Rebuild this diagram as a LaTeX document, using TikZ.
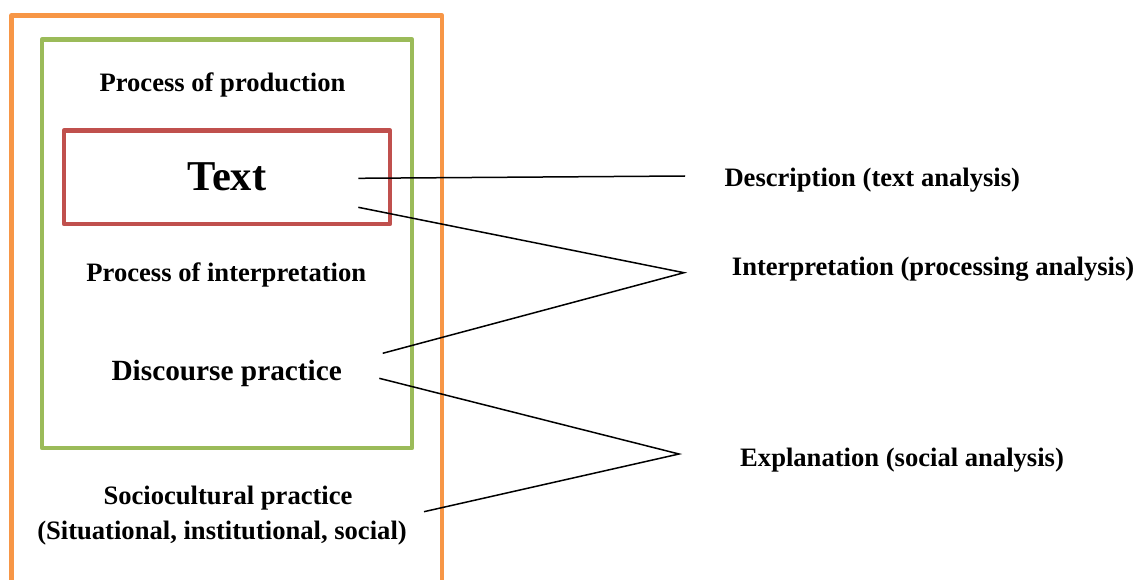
\documentclass[tikz,border=0pt]{standalone}
\usepackage{fontspec}
\setmainfont{Liberation Serif}
\definecolor{orangebox}{HTML}{F79646}
\definecolor{greenbox}{HTML}{9BBB59}
\definecolor{redbox}{HTML}{C0504D}
\begin{document}
\begin{tikzpicture}[x=1pt,y=-1pt,
  lbl/.style={font=\fontsize{26.6}{30}\selectfont\bfseries, inner sep=0pt, anchor=base},
  rlbl/.style={font=\fontsize{26.6}{30}\selectfont\bfseries, inner sep=0pt, anchor=base west},
  frame/.style={line width=4.6pt, line join=round},
  conn/.style={line width=1.5pt, black}]
\useasboundingbox (0,0) rectangle (1138,580);

% outer orange frame (open at bottom)
\draw[frame, orangebox] (11.5,580) -- (11.5,15.5) -- (442,15.5) -- (442,580);

% green frame
\node[frame, draw=greenbox, minimum width=370pt, minimum height=408.5pt, inner sep=0pt] (green) at (227,243.75) {};

% red text box
\node[frame, draw=redbox, minimum width=326pt, minimum height=93.5pt, inner sep=0pt,
      font=\fontsize{42.5}{46}\selectfont\bfseries] (text) at (227,177.25) {Text};

% labels inside
\node[lbl] (prod) at (222.5,92) {Process of production};
\node[lbl] (interp) at (226.3,281.7) {Process of interpretation};
\node[lbl, font=\fontsize{29.3}{33}\selectfont\bfseries] (disc) at (226.7,380) {Discourse practice};
\node[lbl] (socio) at (228,504) {Sociocultural practice};
\node[lbl] (socio2) at (222,539.3) {(Situational, institutional, social)};

% right labels
\node[rlbl] (desc) at (724.3,186.7) {Description (text analysis)};
\node[rlbl] (interpr) at (731.7,275) {Interpretation (processing analysis)};
\node[rlbl] (expl) at (740,466) {Explanation (social analysis)};

% connector end points
\coordinate (t1) at (358.3,178.3);
\coordinate (t2) at (358.3,207.3);
\coordinate (d1) at (382.7,353.3);
\coordinate (d2) at (379.3,378.3);
\coordinate (s1) at (424,511.7);
\coordinate (descEnd) at (685,176);
\coordinate (interpApex) at (684,272.7);
\coordinate (explApex) at (679,454);

% connectors
\draw[conn] (t1) -- (descEnd);
\draw[conn] (t2) -- (interpApex) -- (d1);
\draw[conn] (d2) -- (explApex) -- (s1);
\end{tikzpicture}
\end{document}
